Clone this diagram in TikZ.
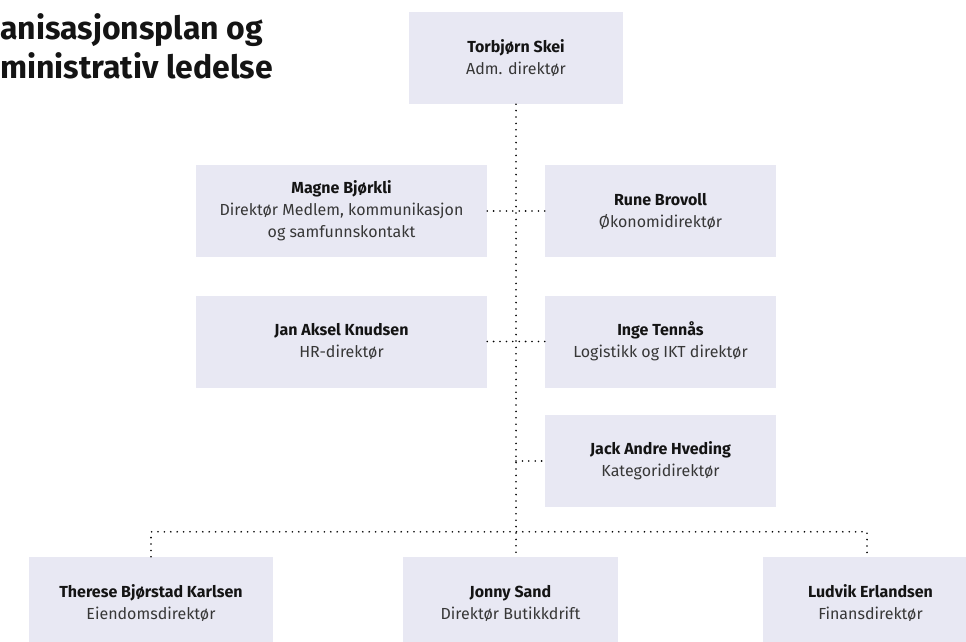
\documentclass[tikz,border=0pt]{standalone}
\usepackage{fontspec}
\setmainfont{Fira Sans}
\definecolor{boksfarge}{RGB}{232,232,243}
\definecolor{navnfarge}{RGB}{20,20,20}
\definecolor{tittelfarge}{RGB}{55,55,55}

\begin{document}
\begin{tikzpicture}[x=1pt,y=-1pt]
\tikzset{leder/.style={fill=boksfarge, inner sep=0, minimum height=92pt, align=center, text=tittelfarge, font=\fontsize{16}{22}\selectfont},
  prikk/.style={line width=1.8pt, dash pattern=on 0pt off 6.4pt, line cap=round}}
\useasboundingbox (0,0) rectangle (966,642);
\clip (0,0) rectangle (966,642);
\node[anchor=west, inner sep=0, align=left, text=navnfarge, font=\fontsize{32}{39}\selectfont\bfseries] (overskrift) at (0,46) {anisasjonsplan og\\ministrativ ledelse};
\node[leder, minimum width=214pt] (adm) at (516,58) {{\bfseries\color{navnfarge}Torbjørn Skei}\\Adm. direktør};
\node[leder, minimum width=291pt] (medlem) at (341.5,211) {{\bfseries\color{navnfarge}Magne Bjørkli}\\Direktør Medlem, kommunikasjon\\og samfunnskontakt};
\node[leder, minimum width=231pt] (okonomi) at (660.5,211) {{\bfseries\color{navnfarge}Rune Brovoll}\\Økonomidirektør};
\node[leder, minimum width=291pt] (hr) at (341.5,341.5) {{\bfseries\color{navnfarge}Jan Aksel Knudsen}\\HR-direktør};
\node[leder, minimum width=231pt] (ikt) at (660.5,341.5) {{\bfseries\color{navnfarge}Inge Tennås}\\Logistikk og IKT direktør};
\node[leder, minimum width=231pt] (kategori) at (660.5,461) {{\bfseries\color{navnfarge}Jack Andre Hveding}\\Kategoridirektør};
\node[leder, minimum width=244pt] (eiendom) at (151,603) {{\bfseries\color{navnfarge}Therese Bjørstad Karlsen}\\Eiendomsdirektør};
\node[leder, minimum width=215pt] (butikk) at (510.5,603) {{\bfseries\color{navnfarge}Jonny Sand}\\Direktør Butikkdrift};
\node[leder, minimum width=215pt] (finans) at (870.5,603) {{\bfseries\color{navnfarge}Ludvik Erlandsen}\\Finansdirektør};
\draw[prikk] (adm.south) -- (adm.south |- butikk.north);
\draw[prikk] (medlem.east) -- (okonomi.west);
\draw[prikk] (hr.east) -- (ikt.west);
\draw[prikk] (adm.south |- kategori.west) -- (kategori.west);
\draw[prikk] (eiendom.north) -- ++(0,-25) -| ([xshift=-3.5pt]finans.north);
\end{tikzpicture}
\end{document}
